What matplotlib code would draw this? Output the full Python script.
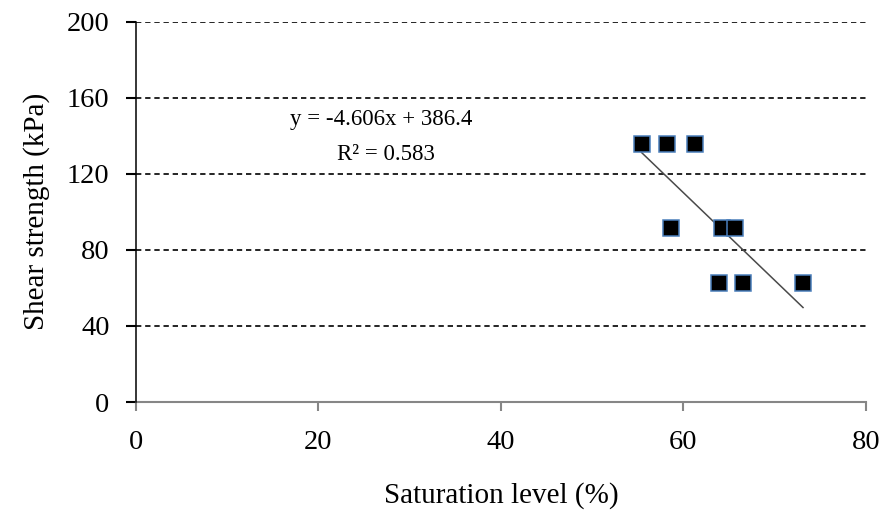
import matplotlib
matplotlib.use("Agg")
from matplotlib import pyplot as plt
import numpy as np

# saturation level (%) vs shear strength (kPa)
saturation = [55.4, 58.2, 61.3, 58.6, 64.2, 65.7, 63.9, 66.5, 73.1]
shear = [135.8, 135.8, 135.8, 91.4, 91.4, 91.4, 62.5, 62.5, 62.5]

# trendline as printed on the chart
slope = -4.606
intercept = 386.4
r2 = 0.583

x_ticks = [0, 20, 40, 60, 80]
y_ticks = [0, 40, 80, 120, 160, 200]

plt.rcParams['font.family'] = ['Liberation Serif', 'DejaVu Serif']

fig = plt.figure(figsize=(8.86, 5.19), dpi=100)
ax = fig.add_axes([0.1535, 0.2254, 0.8239, 0.7328])

# dashed horizontal gridlines
for yv in y_ticks[1:]:
    ax.axhline(yv, color='black', lw=1.2, linestyle=(0, (3.2, 2.3)), zorder=1)

# linear trendline over the data range
xs = np.array([min(saturation), max(saturation)])
ax.plot(xs, slope * xs + intercept, color='#4a4a4a', lw=1.1, zorder=2)

ax.plot(saturation, shear, linestyle='none', marker='s', markersize=11.5,
        markerfacecolor='black', markeredgecolor='#4a7ebb', markeredgewidth=1.1,
        zorder=3)

ax.set_xlim(0, 80)
ax.set_ylim(0, 200)
ax.set_xticks(x_ticks)
ax.set_yticks(y_ticks)

for s in ['top', 'right']:
    ax.spines[s].set_visible(False)
ax.spines['left'].set_color('black')
ax.spines['left'].set_linewidth(1.1)
ax.spines['bottom'].set_color('#868686')
ax.spines['bottom'].set_linewidth(1.5)
ax.spines['left'].set_zorder(4)

ax.tick_params(axis='y', direction='out', length=7, width=1.5, color='black',
               labelsize=20.5, pad=12)
ax.tick_params(axis='x', direction='out', length=6.5, width=1.5, color='#868686',
               labelsize=20.5, pad=14)

ax.set_xlabel('Saturation level (%)', fontsize=21, labelpad=19)
ax.set_ylabel('Shear strength (kPa)', fontsize=21, labelpad=12)

ax.text(16.9, 148.4, 'y = %.3fx + %.1f' % (slope, intercept), fontsize=16.5,
        ha='left', va='center')
ax.text(22.0, 130.0, 'R² = %.3f' % r2, fontsize=16.5, ha='left', va='center')

fig.savefig('out.png', dpi=100)
